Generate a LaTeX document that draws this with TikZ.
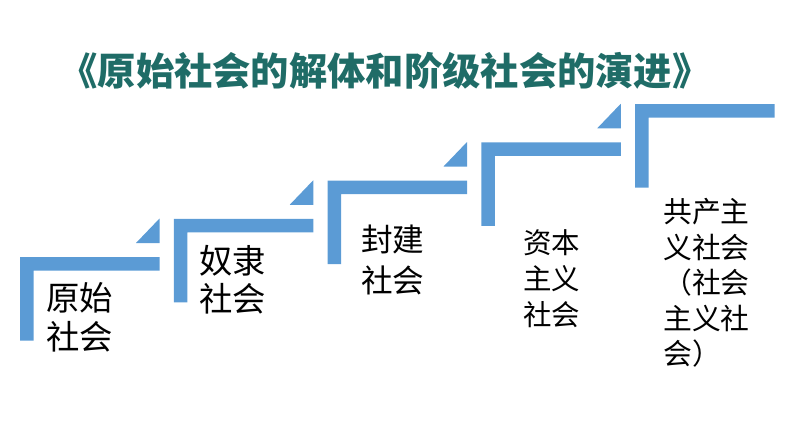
\documentclass[tikz,border=0pt]{standalone}
\usepackage{fontspec}
\newfontfamily\cjk{Noto Sans CJK SC}
\definecolor{stairblue}{HTML}{5B9BD5}
\definecolor{titlegreen}{HTML}{1F6C67}
\tikzset{
  stair/.style={fill=stairblue, draw=none},
  stage/.style={anchor=north west, inner sep=0pt, align=left, text=black}
}
\begin{document}
\begin{tikzpicture}[x=0.02cm, y=-0.02cm]
      \useasboundingbox (0,0) rectangle (794,447);
      \node[text=titlegreen, font=\cjk\bfseries\fontsize{21.8}{26}\selectfont]
        (title) at (385,71) {《原始社会的解体和阶级社会的演进》};
      % the five steps
      \foreach \i in {0,...,4} {
        \pgfmathsetmacro\sx{20+153.75*\i}
        \pgfmathsetmacro\sy{257-38.25*\i}
        \fill[stair] (\sx,\sy) -- ++(139.5,0) -- ++(0,13.5) -- ++(-126,0)
          -- ++(0,70) -- ++(-13.5,0) -- cycle;
        \ifnum\i<4
          \fill[stair] (\sx+139.5,\sy-14) -- ++(-23.5,0) -- ++(23.5,-24.5) -- cycle;
        \fi
      }
      \node[stage, font=\cjk\fontsize{19}{22}\selectfont] (s1) at (46,282) {原始\\社会};
      \node[stage, font=\cjk\fontsize{19}{21.6}\selectfont] (s2) at (199,245) {奴隶\\社会};
      \node[stage, font=\cjk\fontsize{18}{23}\selectfont] (s3) at (361,225) {封建\\社会};
      \node[stage, font=\cjk\fontsize{16.2}{20.7}\selectfont] (s4) at (523,229) {资本\\主义\\社会};
      \node[stage, font=\cjk\fontsize{16.4}{20.2}\selectfont] (s5) at (663,198)
        {共产主\\义社会\\（社会\\主义社\\会）};
    \end{tikzpicture}
\end{document}
